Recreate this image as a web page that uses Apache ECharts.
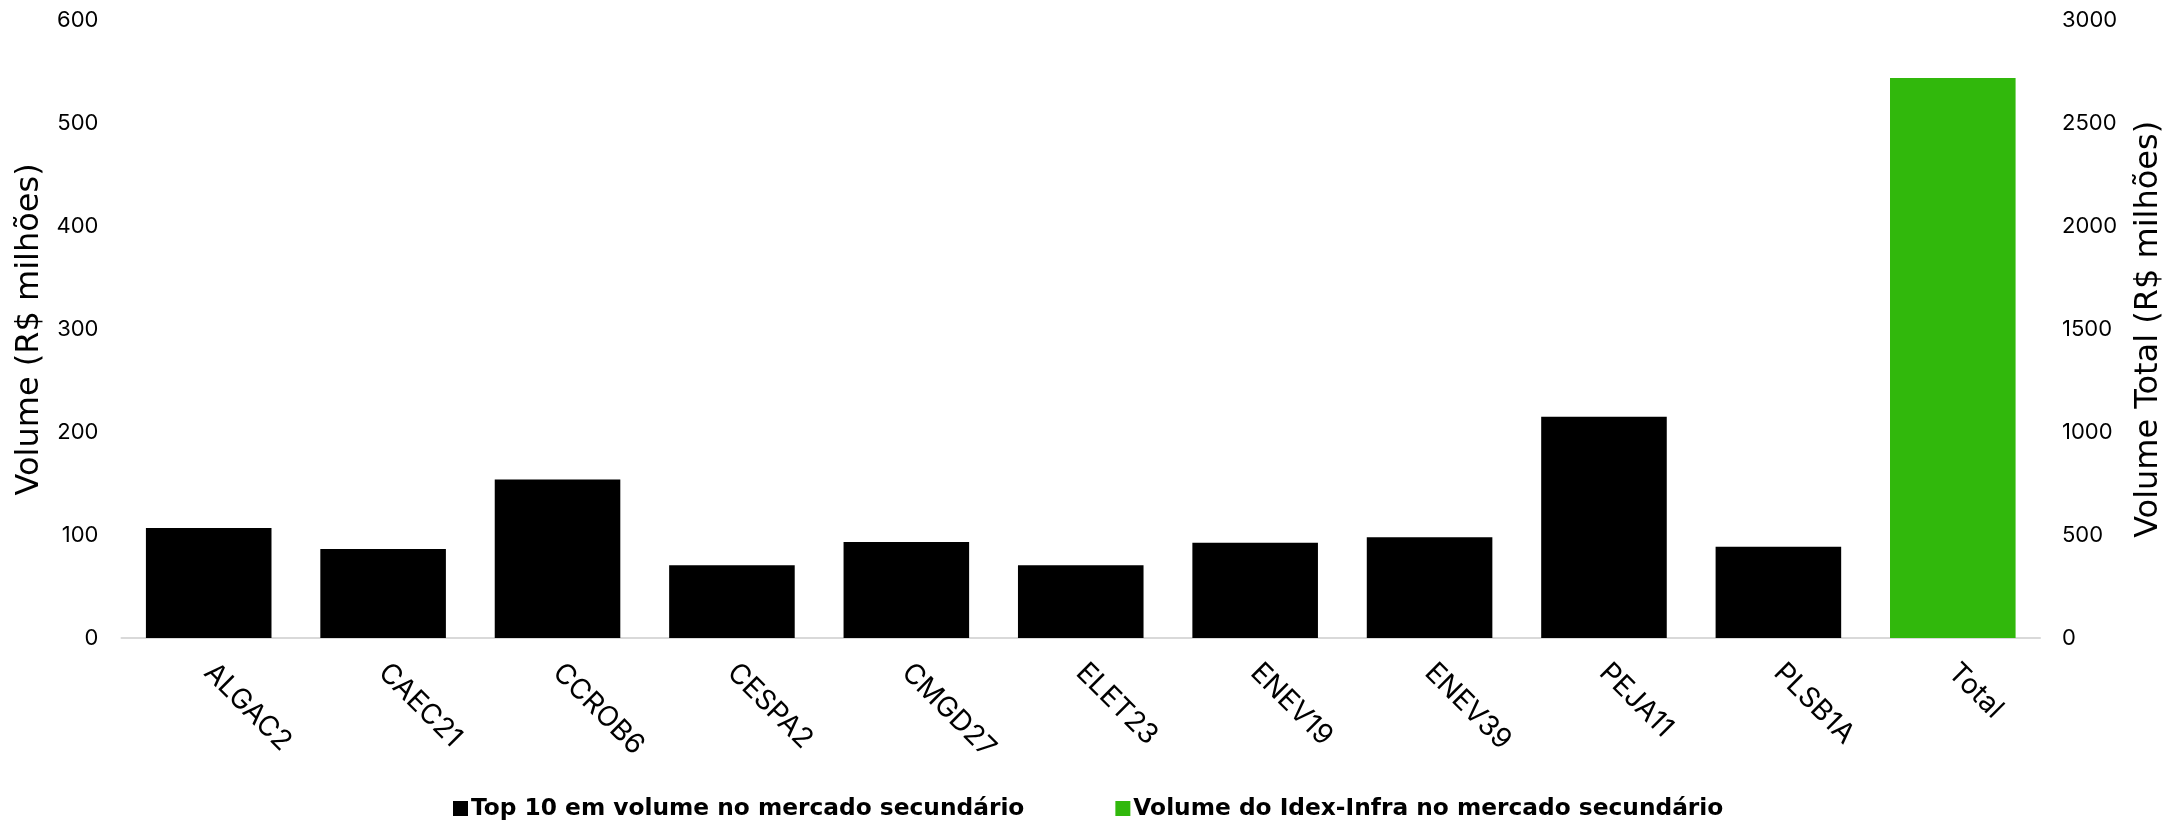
<!DOCTYPE html>
<html>
<head>
<meta charset="utf-8">
<script src="https://cdn.jsdelivr.net/npm/echarts@6/dist/echarts.min.js"></script>
<style>
html,body{margin:0;padding:0;background:#fff;}
#chart{width:2165px;height:823px;}
</style>
</head>
<body>
<div id="chart"></div>
<script>
const categories = ['ALGAC2','CAEC21','CCROB6','CESPA2','CMGD27','ELET23','ENEV19','ENEV39','PEJA11','PLSB1A','Total'];
const top10Values = [107, 86.5, 154, 70.6, 93.4, 70.6, 92.7, 97.9, 215, 88.6, null];
const totalValues = [null, null, null, null, null, null, null, null, null, null, 2721];
const leftTicks = {min: 0, max: 600, interval: 100};
const rightTicks = {min: 0, max: 3000, interval: 500};
const seriesNames = ['Top 10 em volume no mercado secundário', 'Volume do Idex-Infra no mercado secundário'];

const FONT = 'Inter';
const NAMEFONT = 'DejaVu Sans';
const chart = echarts.init(document.getElementById('chart'));
chart.setOption({
  animation: false,
  textStyle: {fontFamily: FONT},
  grid: {left: 121.5, right: 125, top: 20.7, bottom: 185, containLabel: false, outerBoundsMode: 'none'},
  legend: {
    left: 448, top: 792,
    itemWidth: 15, itemHeight: 15, itemGap: 91,
    icon: 'rect',
    textStyle: {fontFamily: NAMEFONT, fontSize: 23.3, fontWeight: 'bold', color: '#000', padding: [0,0,0,-2]},
    data: seriesNames
  },
  xAxis: {
    type: 'category',
    data: categories,
    axisLine: {lineStyle: {color: '#d9d9d9', width: 2}},
    axisTick: {show: false},
    axisLabel: {rotate: -45, color: '#000', fontSize: 28, fontFamily: FONT, margin: 30, interval: 0, hideOverlap: false}
  },
  yAxis: [{
    type: 'value', position: 'left',
    min: leftTicks.min, max: leftTicks.max, interval: leftTicks.interval,
    name: 'Volume (R$ milhões)', nameLocation: 'middle', nameGap: 70, nameRotate: 90,
    nameTextStyle: {fontSize: 32, color: '#000', fontFamily: NAMEFONT},
    axisLine: {show: false}, axisTick: {show: false}, splitLine: {show: false},
    axisLabel: {color: '#000', fontSize: 22, fontFamily: FONT, margin: 23}
  }, {
    type: 'value', position: 'right',
    min: rightTicks.min, max: rightTicks.max, interval: rightTicks.interval,
    name: 'Volume Total (R$ milhões)', nameLocation: 'middle', nameGap: 93, nameRotate: 90,
    nameTextStyle: {fontSize: 32, color: '#000', fontFamily: NAMEFONT},
    axisLine: {show: false}, axisTick: {show: false}, splitLine: {show: false},
    axisLabel: {color: '#000', fontSize: 22, fontFamily: FONT, margin: 22, formatter: function (v) { return String(v); }}
  }],
  series: [{
    name: seriesNames[0], type: 'bar', yAxisIndex: 0, data: top10Values,
    barWidth: '72%', barGap: '-100%', itemStyle: {color: '#000000'}
  }, {
    name: seriesNames[1], type: 'bar', yAxisIndex: 1, data: totalValues,
    barWidth: '72%', barGap: '-100%', itemStyle: {color: '#31b80c'}
  }]
});
</script>
</body>
</html>
